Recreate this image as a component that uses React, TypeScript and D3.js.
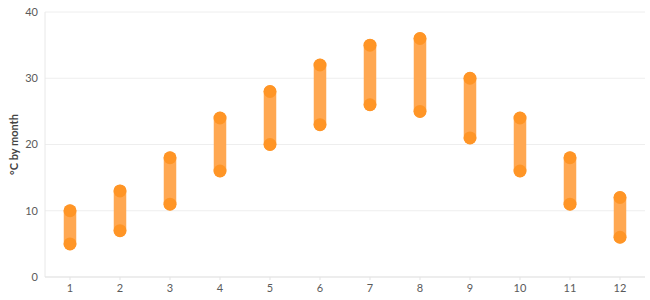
import React from "react";
import * as d3 from "d3";

const months = ["1", "2", "3", "4", "5", "6", "7", "8", "9", "10", "11", "12"];
const lows = [5, 7, 11, 16, 20, 23, 26, 25, 21, 16, 11, 6];
const highs = [10, 13, 18, 24, 28, 32, 35, 36, 30, 24, 18, 12];
const yTicks = [0, 10, 20, 30, 40];

const W = 650, H = 300;
const M = { left: 45, right: 5, top: 12, bottom: 23 };

export default function App() {
  const x = d3.scaleBand<string>().domain(months).range([M.left, W - M.right]);
  const y = d3.scaleLinear().domain([0, 40]).range([H - M.bottom, M.top]);
  const barW = 12.5;
  const r = 6.5;
  const font = "Lato, 'Open Sans', sans-serif";
  return (
    <svg width={W} height={H} style={{ position: "absolute", left: 0, top: 0 }}>
      <rect width={W} height={H} fill="#fff" />
      {yTicks.map((t) => (
        <g key={t}>
          <line x1={M.left} x2={W - M.right} y1={y(t)} y2={y(t)} stroke="#eeeeee" strokeWidth={1} />
          <text x={M.left - 7} y={y(t)} dy="0.35em" textAnchor="end" fontSize={11} fill="#5a5a5a" fontFamily={font}>{t}</text>
        </g>
      ))}
      <line x1={M.left} x2={M.left} y1={M.top} y2={H - M.bottom} stroke="#e8e8e8" />
      <line x1={M.left} x2={W - M.right} y1={H - M.bottom} y2={H - M.bottom} stroke="#e3e3e3" />
      {months.map((m) => {
        const cx = (x(m) as number) + x.bandwidth() / 2;
        return (
          <g key={m}>
            <line x1={cx} x2={cx} y1={H - M.bottom} y2={H - M.bottom + 3} stroke="#e3e3e3" />
            <text x={cx} y={H - M.bottom + 15} textAnchor="middle" fontSize={11} fill="#5a5a5a" fontFamily={font}>{m}</text>
          </g>
        );
      })}
      <text transform={`translate(18,${(M.top + H - M.bottom) / 2}) rotate(-90)`} textAnchor="middle" fontSize={11} fontWeight="bold" fill="#444" fontFamily={font}>°C by month</text>
      {months.map((m, i) => {
        const cx = (x(m) as number) + x.bandwidth() / 2;
        return (
          <g key={"b" + m}>
            <rect x={cx - barW / 2} y={y(highs[i]) - barW / 2} width={barW} height={y(lows[i]) - y(highs[i]) + barW} rx={barW / 2} fill="#ffa852" />
            <circle cx={cx} cy={y(highs[i])} r={r} fill="#ff9526" />
            <circle cx={cx} cy={y(lows[i])} r={r} fill="#ff9526" />
          </g>
        );
      })}
    </svg>
  );
}
